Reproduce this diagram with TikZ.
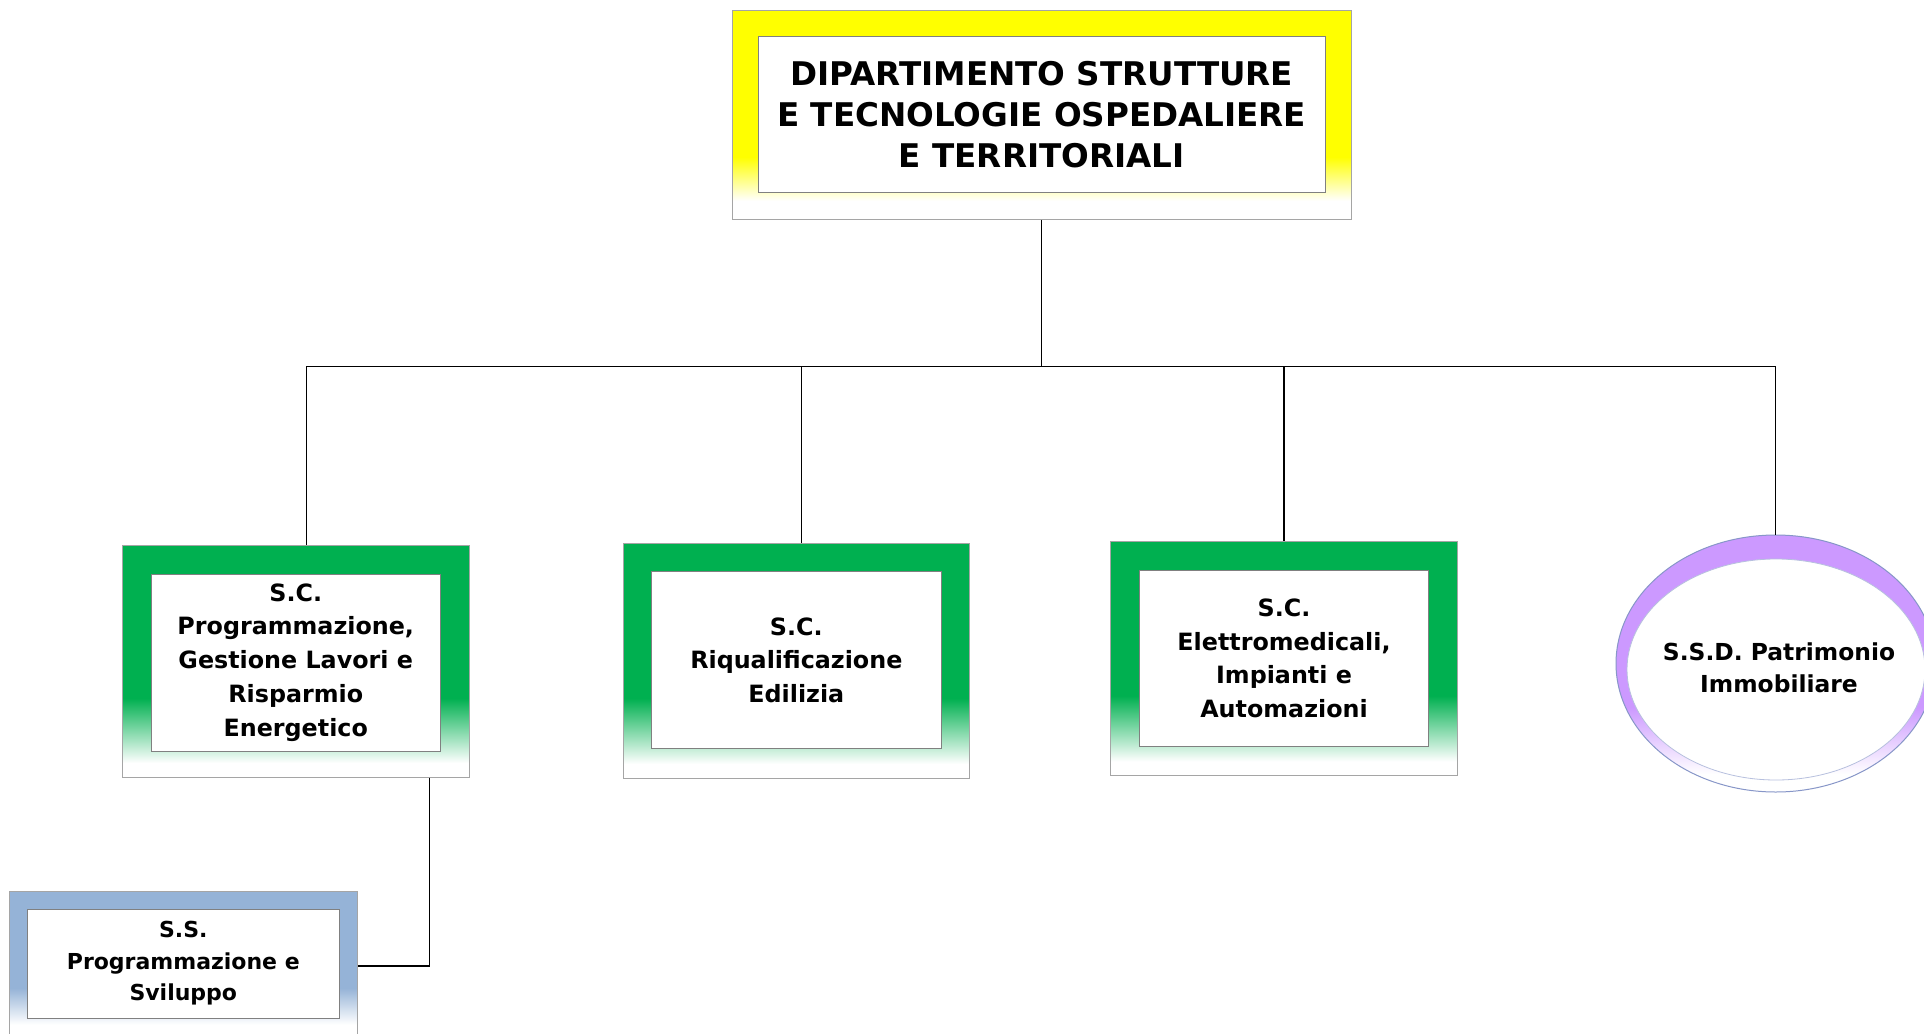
\documentclass[tikz,border=0pt]{standalone}
\usepackage{fontspec}
\setmainfont{DejaVu Sans}
\usetikzlibrary{calc,shapes.geometric}
\definecolor{topyellow}{RGB}{255,255,0}
\definecolor{scgreen}{RGB}{0,176,80}
\definecolor{ssblue}{RGB}{149,179,215}
\definecolor{ssdpurple}{RGB}{204,153,255}
\definecolor{outerframe}{RGB}{165,165,165}
\definecolor{innerframe}{RGB}{128,128,128}
\definecolor{ellframe}{RGB}{135,150,200}
\pgfdeclareverticalshading{yellowfade}{100bp}{color(0bp)=(white); color(29.5bp)=(white); color(40bp)=(topyellow); color(100bp)=(topyellow)}
\pgfdeclareverticalshading{greenfade}{100bp}{color(0bp)=(white); color(28bp)=(white); color(42bp)=(scgreen); color(100bp)=(scgreen)}
\pgfdeclareverticalshading{bluefade}{100bp}{color(0bp)=(white); color(33bp)=(white); color(44.5bp)=(ssblue); color(100bp)=(ssblue)}
\pgfdeclareverticalshading{purplefade}{100bp}{color(0bp)=(white); color(28.5bp)=(white); color(41.5bp)=(ssdpurple); color(100bp)=(ssdpurple)}
\tikzset{
  outerbox/.style={rectangle, inner sep=0pt, draw=outerframe, line width=1pt, shade, shading=#1},
  innerbox/.style={rectangle, inner sep=0pt, draw=innerframe, line width=1pt, fill=white, align=center},
  boxfont/.style={font=\fontsize{23.8}{33.8}\selectfont\bfseries},
  ellfont/.style={font=\fontsize{23.4}{32}\selectfont\bfseries},
  smallfont/.style={font=\fontsize{22}{31.5}\selectfont\bfseries},
  conn/.style={draw=black, line width=1.3pt},
}
\begin{document}
\begin{tikzpicture}[x=1pt,y=-1pt]
\useasboundingbox (0,0) rectangle (1924,1033);
\clip (0,0) rectangle (1924,1033);
\fill[white] (0,0) rectangle (1924,1033);

% top department
\node[outerbox=yellowfade, minimum width=618.5pt, minimum height=208.6pt] (topout) at (1041.75,115.3) {};
\node[innerbox, minimum width=567pt, minimum height=155.8pt, font=\fontsize{32.6}{41}\selectfont\bfseries] (topin) at (1041.75,114.7)
  {DIPARTIMENTO STRUTTURE\\E TECNOLOGIE OSPEDALIERE\\E TERRITORIALI};

% S.C. boxes
\node[outerbox=greenfade, minimum width=347pt, minimum height=232pt] (b1out) at (296,661) {};
\node[innerbox, boxfont, minimum width=289.5pt, minimum height=177pt] (b1in) at (295.75,662.5)
  {S.C.\\Programmazione,\\Gestione Lavori e\\Risparmio\\Energetico};

\node[outerbox=greenfade, minimum width=346pt, minimum height=234.4pt] (b2out) at (796.3,660.8) {};
\node[innerbox, boxfont, minimum width=289.6pt, minimum height=176.7pt] (b2in) at (796.3,660.2)
  {S.C.\\Riqualificazione\\Edilizia};

\node[outerbox=greenfade, minimum width=347.3pt, minimum height=234.4pt] (b3out) at (1284,658.3) {};
\node[innerbox, boxfont, minimum width=288.3pt, minimum height=175.4pt] (b3in) at (1284,658.3)
  {S.C.\\Elettromedicali,\\Impianti e\\Automazioni};

% S.S.D. ellipse
\node[ellipse, inner sep=0pt, draw=ellframe, line width=1pt, shade, shading=purplefade,
      minimum width=319.4pt, minimum height=257pt] (ssdout) at (1775.7,663.5) {};
\node[ellipse, inner sep=0pt, draw=ellframe!60, line width=0.8pt, fill=white,
      minimum width=298pt, minimum height=221pt] (ssdin) at (1776,669.5) {};
\node[align=center, ellfont, inner sep=0pt] (ssdlabel) at (1779,668) {S.S.D. Patrimonio\\Immobiliare};

% S.S. box
\node[outerbox=bluefade, minimum width=347.5pt, minimum height=159pt] (b4out) at (183.25,970.5) {};
\node[innerbox, smallfont, minimum width=312pt, minimum height=109pt] (b4in) at (183.3,963.5)
  {S.S.\\Programmazione e\\Sviluppo};

% connectors
\draw[conn] (topout.south) -- ++(0,146.4) coordinate (bus);
\draw[conn] (bus) -| ($(b1out.north)+(10.8,0)$);
\draw[conn] (bus) -| ($(b2out.north)+(4.9,0)$);
\draw[conn] (bus) -| (b3out.north);
\draw[conn] (bus) -| (ssdout.north);
\draw[conn] ($(b1out.south)+(133.3,0)$) |- ([yshift=4.5pt]b4out.east);
\end{tikzpicture}
\end{document}
